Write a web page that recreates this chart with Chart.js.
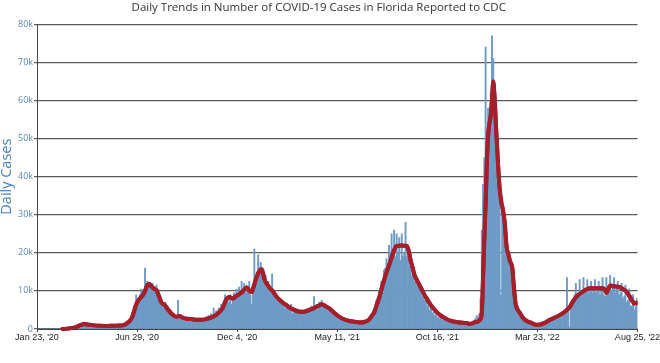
<!DOCTYPE html>
<html><head><meta charset="utf-8">
<script src="https://cdn.jsdelivr.net/npm/chart.js@4.4.1/dist/chart.umd.min.js"></script>
<style>html,body{margin:0;padding:0;background:#fff;}canvas{display:block;}</style>
</head><body>
<canvas id="c" width="660" height="363"></canvas>
<script>
const chartTitle = "Daily Trends in Number of COVID-19 Cases in Florida Reported to CDC";
const yAxisTitle = "Daily Cases";
// x axis: days since Jan 23, 2020
const xTickDays = [0, 157.5, 315, 472.5, 630, 787.5, 945];
const xTickLabels = ["Jan 23, '20", "Jun 29, '20", "Dec 4, '20", "May 11, '21", "Oct 16, '21", "Mar 23, '22", "Aug 25, '22"];
const yTickValues = [0, 10, 20, 30, 40, 50, 60, 70, 80];
const yTickLabels = ["0", "10k", "20k", "30k", "40k", "50k", "60k", "70k", "80k"];

// Daily reported cases (thousands), one value every 2 days, in blocks of 100 days
const barStep = 2;
const cases0 = [ // days 0-98
0,0,0,0,0,0,0,0,0,0,
0,0,0,0,0,0,0,0,0,0,
0,0.02,0.03,0.05,0.1,0.15,0.25,0.35,0.5,0.7,
0.8,0.9,1.0,1.2,1.1,1.3,1.2,1.0,1.3,1.2,
1.1,0.9,1.2,1.0,1.1,0.8,1.0,0.9,0.7,1.0];
const cases1 = [ // days 100-198
0.9,0.7,0.8,0.7,0.6,0.8,0.7,0.9,0.8,0.7,
1.0,0.8,0.9,0.7,1.0,1.1,1.1,1.0,1.2,1.4,
1.6,1.8,2.2,2.6,3.2,3.8,5.0,5.5,9.0,6.5,
8.0,9.0,10.5,9.0,10.5,16.0,11.0,12.5,11.5,12.0,
10.5,12.0,11.0,10.0,11.5,9.0,8.5,7.5,7.0,6.0];
const cases2 = [ // days 200-298
6.5,7.0,5.5,6.0,4.5,5.0,3.8,4.0,3.0,3.5,
2.8,7.5,3.0,3.5,2.5,3.0,2.0,2.8,2.5,3.2,
2.4,2.8,2.2,2.6,2.3,2.7,2.0,2.6,2.3,2.8,
2.2,2.8,2.6,3.2,2.8,3.6,3.2,4.0,3.5,5.5,
4.0,4.8,4.5,5.5,5.0,6.5,5.5,6.0,9.0,7.0];
const cases3 = [ // days 300-398
8.5,7.0,9.0,6.5,8.0,9.5,8.5,10.5,9.0,11.0,
8.5,12.5,10.0,12.0,9.5,11.5,10.0,12.5,9.0,6.5,
11.0,21.0,14.0,15.0,19.5,16.0,17.5,15.0,16.0,13.0,
14.0,12.0,12.5,10.5,11.0,14.5,10.5,9.0,8.5,7.5,
7.0,7.5,6.5,6.5,7.0,5.5,6.5,5.5,6.0,5.0];
const cases4 = [ // days 400-498
6.5,4.0,5.5,4.5,5.0,4.0,5.0,4.2,4.8,4.0,
5.0,4.5,5.2,4.8,5.5,5.0,6.0,5.2,8.5,5.5,
6.5,5.0,7.0,6.0,7.5,6.0,6.5,5.5,6.0,4.8,
5.2,4.5,4.8,3.8,4.2,3.5,3.8,3.0,3.4,2.8,
3.0,2.4,2.7,2.2,2.5,2.0,2.2,1.8,2.0,1.6];
const cases5 = [ // days 500-598
1.9,1.6,1.8,1.6,1.8,1.5,1.9,1.8,2.0,2.1,
2.4,2.6,3.0,3.5,4.0,5.0,6.0,7.5,8.0,10.0,
10.5,12.5,13.0,15.5,16.0,18.5,17.0,22.0,20.0,25.0,
21.0,26.0,19.0,25.0,20.0,24.0,18.0,25.0,19.0,20.0,
28.0,19.0,21.0,16.5,18.0,14.0,16.0,12.5,14.0,11.5];
const cases6 = [ // days 600-698
12.0,10.0,11.0,8.5,9.0,7.5,8.0,6.0,6.5,5.0,
5.5,4.2,4.5,3.5,3.8,3.0,3.2,2.6,2.8,2.3,
2.4,2.0,2.2,1.8,2.0,1.7,1.9,1.6,1.8,1.5,
1.8,1.5,1.7,1.4,1.7,1.5,1.6,1.3,1.5,1.2,
1.4,1.5,1.8,2.0,2.2,2.8,3.5,3.0,4.0,8.0];
const cases7 = [ // days 700-798
26.0,38.0,45.0,74.0,50.0,58.0,56.0,62.0,77.0,71.0,
58.0,52.0,44.0,40.0,36.0,9.0,33.0,30.0,27.0,22.0,
20.0,19.0,17.5,16.5,14.0,10.0,7.0,5.5,4.8,4.2,
3.6,3.2,2.8,2.5,2.3,2.0,1.9,1.8,1.6,1.5,
1.4,1.3,1.2,1.1,1.2,1.3,1.3,1.4,1.5,1.7];
const cases8 = [ // days 800-898
1.9,2.0,2.2,2.3,2.5,2.7,2.9,3.0,3.2,3.4,
3.5,3.7,4.0,4.2,4.5,4.8,4.8,13.5,6.0,0.5,
7.0,7.5,8.0,9.0,12.0,8.5,9.5,13.0,9.0,10.0,
13.5,9.5,10.0,13.0,9.5,10.5,12.5,9.5,10.0,13.0,
9.5,10.5,12.5,9.0,10.0,13.5,9.0,8.5,13.5,10.0];
const cases9 = [ // days 900-944
11.0,14.0,10.0,11.0,13.5,9.5,10.5,12.5,9.0,9.5,
12.0,8.0,8.5,11.5,7.0,7.5,10.5,6.0,6.0,9.0,
5.0,6.0,8.0];
const blockStartDays = [0, 100, 200, 300, 400, 500, 600, 700, 800, 900];
const caseBlocks = [cases0, cases1, cases2, cases3, cases4, cases5, cases6, cases7, cases8, cases9];

// 7-day average (thousands)
const avgDays = [
40,48,55,62,68,75,82,90,100,110,
120,130,136,140,143,146,150,153,156,160,
164,167,170,174,177,180,184,188,192,196,
201,206,210,214,219,224,229,235,243,251,
258,266,272,277,282,287,292,295,298,303,
308,313,319,324,329,332,335,338,341,345,
348,353,356,358,362,366,371,376,382,387,
392,398,404,411,418,424,430,436,442,448,
452,456,461,468,476,484,492,500,508,516,
522,527,531,535,539,543,547,551,555,559,
562,566,574,582,585,588,591,594,598,602,
606,610,614,618,622,626,630,634,640,646,
652,658,666,673,678,681,685,690,694,697,
700,702,704,706,708,710,712,714,716,718,
720,723,726,728,731,733,736,739,742,744,
748,750,753,756,760,764,768,773,778,786,
792,799,807,815,823,831,839,844,849,854,
859,864,870,880,891,894,896,899,902,908,
913,917,922,928,932,936,940,943,945];
const avgThousands = [
0,0.05,0.3,0.5,1.0,1.3,1.1,0.95,0.85,0.8,
0.85,0.9,1.0,1.3,1.7,2.1,3.2,4.8,6.4,7.6,
8.4,9.0,10.0,11.6,11.8,11.2,10.6,10.2,8.6,6.9,
6.3,5.1,4.3,3.7,3.2,3.4,3.0,2.7,2.6,2.4,
2.4,2.6,2.9,3.2,3.7,4.5,5.5,6.7,7.8,8.4,
8.0,8.6,9.2,9.9,10.8,10.6,9.9,9.7,11.2,13.3,
14.6,15.7,14.5,13.0,11.8,10.8,9.9,8.7,7.6,6.9,
6.3,5.6,5.1,4.6,4.5,4.7,5.1,5.5,6.0,6.5,
6.2,5.8,5.3,4.2,3.2,2.5,2.1,1.9,1.7,1.9,
2.4,3.5,4.5,6.5,8.5,11.0,13.3,15.3,17.2,19.2,
20.7,21.8,21.9,21.8,20.5,18.0,16.2,14.2,12.8,11.5,
10.2,8.9,7.8,6.7,5.8,5.0,4.3,3.7,3.0,2.5,
2.1,1.9,1.7,1.6,1.5,1.3,1.5,1.8,2.0,2.4,
4.2,13.7,24.0,33.0,44.0,51.0,54.0,56.0,60.0,65.0,
61.0,51.0,42.0,37.0,33.0,31.5,28.0,21.6,19.5,18.0,
16.0,12.0,6.8,5.2,4.2,3.1,2.4,1.9,1.6,1.1,
1.2,1.6,2.4,3.0,3.7,4.6,5.9,7.4,8.5,9.2,
9.8,10.3,10.7,10.7,10.7,10.2,9.5,10.4,11.4,11.2,
11.1,11.0,10.5,9.8,8.7,7.6,6.7,6.9,6.8];

const barPoints = [];
caseBlocks.forEach((vals, b) => vals.forEach((v, i) => barPoints.push({x: blockStartDays[b] + i * barStep, y: v})));
const avgPoints = avgDays.map((d, i) => ({x: d, y: avgThousands[i]}));

const lineOnTop = {
  id: 'lineOnTop',
  afterDraw(chart) {
    const a = chart.chartArea, ctx = chart.ctx;
    ctx.save();
    ctx.beginPath();
    ctx.rect(a.left, a.top - 6, a.right - a.left, a.bottom - a.top + 8);
    ctx.clip();
    chart.getDatasetMeta(0).controller.draw();
    ctx.restore();
  }
};

new Chart(document.getElementById('c'), {
  type: 'bar',
  data: {
    datasets: [
      {type: 'line', data: avgPoints, borderColor: '#a51f2b', borderWidth: 4, pointRadius: 0,
       cubicInterpolationMode: 'monotone', borderCapStyle: 'round', borderJoinStyle: 'round', order: 0},
      {type: 'bar', data: barPoints, backgroundColor: '#6d9bc6', borderWidth: 0,
       barPercentage: 1, categoryPercentage: 1, grouped: false, order: 1}
    ]
  },
  plugins: [lineOnTop],
  options: {
    responsive: false, animation: false, devicePixelRatio: 1,
    layout: {padding: {left: 0, right: 22.5, top: 0, bottom: 0}},
    plugins: {
      legend: {display: false}, tooltip: {enabled: false},
      title: {display: true, text: chartTitle, color: '#333',
        font: {family: 'Open Sans', size: 11.5, weight: 'normal'}, padding: {top: 1.1, bottom: 9.4}}
    },
    scales: {
      x: {
        type: 'linear', min: 0, max: 945, offset: false, z: 1,
        afterBuildTicks: s => { s.ticks = xTickDays.map(v => ({value: v})); },
        afterFit: s => { s.height = 34; s.paddingLeft = 0; s.paddingRight = 0; },
        ticks: {autoSkip: false, maxRotation: 0, minRotation: 0, padding: 0, color: '#222',
          font: {family: 'Liberation Sans', size: 9}, callback: (v, i) => xTickLabels[i]},
        grid: {drawOnChartArea: false, drawTicks: true, tickLength: 3, color: '#444', offset: false},
        border: {display: true, color: '#444', width: 1}
      },
      y: {
        min: 0, max: 80, z: 1,
        afterBuildTicks: s => { s.ticks = yTickValues.map(v => ({value: v})); },
        afterFit: s => { s.width = 37; s.paddingTop = 0; s.paddingBottom = 0; },
        ticks: {padding: 1, color: '#5a87b4', font: {family: 'Open Sans', size: 9},
          callback: (v, i) => yTickLabels[i]},
        grid: {color: '#5a5a5a', lineWidth: 1.2, tickLength: 3, drawTicks: true},
        border: {display: true, color: '#444', width: 1},
        title: {display: true, text: yAxisTitle, color: '#4780bd',
          font: {family: 'Open Sans', size: 14.5, lineHeight: 1}, padding: {top: 0, bottom: 0}}
      }
    }
  }
});
</script>
</body></html>
